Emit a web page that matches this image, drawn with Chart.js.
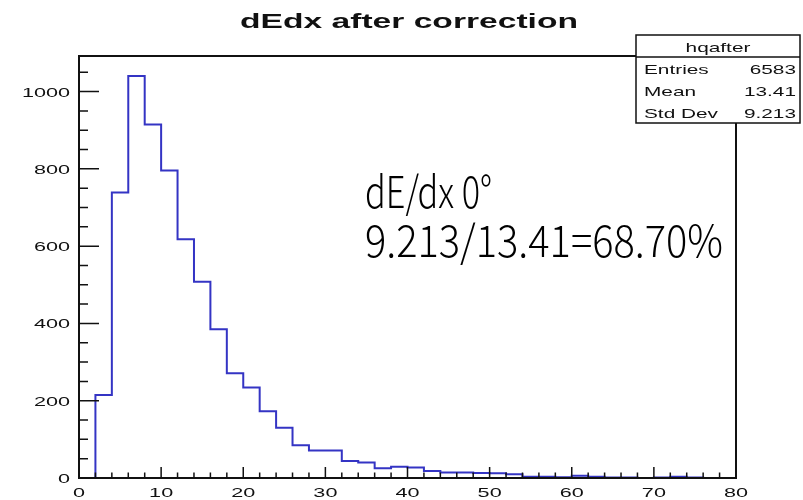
<!DOCTYPE html>
<html lang="en">
<head>
    <meta charset="UTF-8">
    <title>dEdx after correction</title>
    <script src="https://cdn.jsdelivr.net/npm/chart.js"></script>
    <style>
        html, body { margin: 0; padding: 0; background: #fff; }
        #wrap { width: 803px; height: 500px; }
    </style>
</head>
<body>
    <div id="wrap"><canvas id="histChart" width="803" height="500"></canvas></div>

    <script>
        // lower edges of the 2-unit bins
        const binEdges = [0, 2, 4, 6, 8, 10, 12, 14, 16, 18, 20, 22, 24, 26, 28, 30, 32, 34, 36, 38,
                          40, 42, 44, 46, 48, 50, 52, 54, 56, 58, 60, 62, 64, 66, 68, 70, 72, 74, 76, 78];
        const binCounts = [0, 215, 739, 1040, 915, 796, 618, 508, 385, 271, 234, 173, 130, 85, 71, 71, 44, 40, 25, 29,
                           27, 18, 14, 14, 13, 12, 10, 3, 3, 2, 6, 3, 1, 1, 0, 1, 3, 1, 0, 0];
        const xTickLabels = [0, 10, 20, 30, 40, 50, 60, 70, 80];
        const yTickLabels = [0, 200, 400, 600, 800, 1000];
        const statNames = ['Entries', 'Mean', 'Std Dev'];
        const statValues = ['6583', '13.41', '9.213'];
        const histName = 'hqafter';
        const titleText = 'dEdx after correction';
        const noteLines = ['dE/dx 0\u00b0', '9.213/13.41=68.70%'];

        const xMax = 80;
        const yMax = 1092;
        const SX = 1.6; // ROOT picture is stretched sideways

        function stretchText(ctx, text, x, y, align, font, sx) {
            ctx.save();
            ctx.font = font;
            ctx.textBaseline = 'alphabetic';
            ctx.textAlign = 'left';
            const w = ctx.measureText(text).width * sx;
            let left = x;
            if (align === 'center') left = x - w / 2;
            if (align === 'right') left = x - w;
            ctx.translate(left, y);
            ctx.scale(sx, 1);
            ctx.fillText(text, 0, 0);
            ctx.restore();
        }

        function fitText(ctx, text, x, y, width, font) {
            ctx.save();
            ctx.font = font;
            const sx = width / ctx.measureText(text).width;
            ctx.translate(x, y);
            ctx.scale(sx, 1);
            ctx.textAlign = 'left';
            ctx.textBaseline = 'alphabetic';
            ctx.fillText(text, 0, 0);
            ctx.restore();
        }

        const rootFrame = {
            id: 'rootFrame',
            afterDraw(chart) {
                const ctx = chart.ctx;
                const a = chart.chartArea;
                const xs = chart.scales.x;
                const ys = chart.scales.y;
                ctx.save();
                ctx.fillStyle = '#111';
                ctx.strokeStyle = '#111';

                // frame
                ctx.lineWidth = 2;
                ctx.strokeRect(a.left, a.top, a.right - a.left, a.bottom - a.top);

                // ticks, pointing into the frame
                ctx.lineWidth = 1.5;
                ctx.beginPath();
                for (let v = 0; v <= yMax; v += 50) {
                    const py = ys.getPixelForValue(v);
                    const len = (v % 200 === 0) ? 20 : 9;
                    ctx.moveTo(a.left, py);
                    ctx.lineTo(a.left + len, py);
                }
                for (let v = 0; v <= xMax; v += 2) {
                    const px = xs.getPixelForValue(v);
                    const len = (v % 10 === 0) ? 11 : 5.5;
                    ctx.moveTo(px, a.bottom);
                    ctx.lineTo(px, a.bottom - len);
                }
                ctx.stroke();

                // tick labels
                const tickFont = '13.5px "Liberation Sans", Arial, sans-serif';
                yTickLabels.forEach(v => {
                    stretchText(ctx, String(v), a.left - 9, ys.getPixelForValue(v) + 5, 'right', tickFont, SX);
                });
                xTickLabels.forEach(v => {
                    stretchText(ctx, String(v), xs.getPixelForValue(v), 497, 'center', tickFont, SX);
                });

                // title
                stretchText(ctx, titleText, 409, 28, 'center', 'bold 21px "Liberation Sans", Arial, sans-serif', SX);

                // stat box
                const bx = 636, by = 35, bw = 164, bh = 88;
                ctx.fillStyle = '#fff';
                ctx.fillRect(bx, by, bw, bh);
                ctx.lineWidth = 1.5;
                ctx.strokeRect(bx, by, bw, bh);
                ctx.beginPath();
                ctx.moveTo(bx, 57);
                ctx.lineTo(bx + bw, 57);
                ctx.stroke();
                ctx.fillStyle = '#111';
                const statFont = '13px "Liberation Sans", Arial, sans-serif';
                stretchText(ctx, histName, bx + bw / 2, 52, 'center', statFont, SX);
                const rowY = [74, 96, 118];
                statNames.forEach((n, i) => {
                    stretchText(ctx, n, 644, rowY[i], 'left', statFont, SX);
                    stretchText(ctx, statValues[i], 796, rowY[i], 'right', statFont, SX);
                });

                // note on the slide
                ctx.fillStyle = '#000';
                const noteFont = '300 44px "Noto Sans CJK SC", "Noto Sans", sans-serif';
                fitText(ctx, noteLines[0], 365, 208, 127, noteFont);
                fitText(ctx, noteLines[1], 365, 257, 358, noteFont);

                ctx.restore();
            }
        };

        const points = binEdges.map((e, i) => ({ x: e, y: binCounts[i] }));
        points.push({ x: xMax, y: 0 });

        new Chart(document.getElementById('histChart').getContext('2d'), {
            type: 'line',
            data: {
                datasets: [{
                    label: histName,
                    data: points,
                    stepped: 'before',
                    borderColor: '#3434c4',
                    borderWidth: 2,
                    pointRadius: 0,
                    fill: false
                }]
            },
            options: {
                responsive: false,
                animation: false,
                devicePixelRatio: 1,
                layout: { padding: { top: 56, right: 67, left: 0, bottom: 0 } },
                plugins: {
                    legend: { display: false },
                    title: { display: false },
                    tooltip: { enabled: false }
                },
                scales: {
                    x: {
                        type: 'linear',
                        min: 0,
                        max: xMax,
                        grid: { display: false, drawTicks: false },
                        border: { display: false },
                        ticks: { display: false },
                        afterFit(scale) { scale.height = 22; }
                    },
                    y: {
                        min: 0,
                        max: yMax,
                        grid: { display: false, drawTicks: false },
                        border: { display: false },
                        ticks: { display: false },
                        afterFit(scale) { scale.width = 79; }
                    }
                }
            },
            plugins: [rootFrame]
        });
    </script>
</body>
</html>
